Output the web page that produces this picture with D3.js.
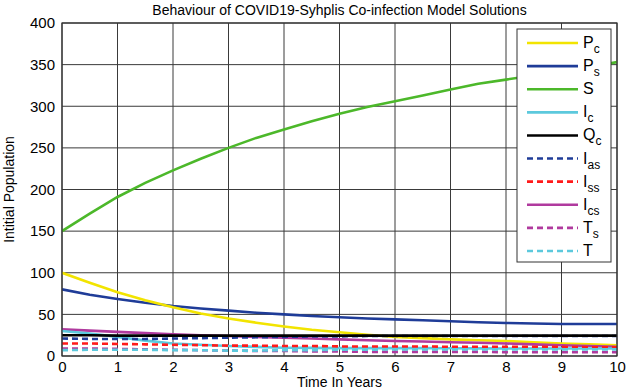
<!DOCTYPE html>
<html><head><meta charset="utf-8">
<script src="https://cdn.jsdelivr.net/npm/d3@7"></script>
<style>body{margin:0;background:#fff}svg{display:block;font-family:"Liberation Sans",Arial,sans-serif}</style>
</head><body><svg id="c" width="629" height="391"></svg>
<script>
const time = [0,0.5,1,1.5,2,2.5,3,3.5,4,4.5,5,5.5,6,6.5,7,7.5,8,8.5,9,9.5,10];
const Pc  = [100,88,76.5,67,58.5,51,45,40,35.5,31.5,28.5,25.5,23,21.5,20,19,18,16.5,15,14,13];
const Ps  = [80,73.5,68.5,64,60,57,54.5,52,50,48,46.5,45,44,43,41.8,40.5,39.7,39,38.5,38.5,38.5];
const S   = [150,171,191,208,223,237,250,262,272,282,291,299,306,313,320,327,332,337,342,347,353];
const Ic  = [30,27,23,18.5,15,13.5,12,11,10,9.8,9.5,9.5,9.5,9.5,9.3,9.2,9,9,9,9,9];
const Qc  = [25,25,24.5,24.5,24.5,24.5,24.5,24.5,24.5,24.5,24.5,24.5,24.5,24.5,24.5,24.5,24.5,24.5,24.5,24.5,24.5];
const Ias = [21,20.5,20.5,20.5,21,21.5,22,22.5,23,23.5,23.5,24,24,24,24,24,24,24,24,24,24];
const Iss = [15,15,14.5,14,13.5,13,12.5,12.5,12,12,11.5,11.5,11.5,11.5,11,11,11,11,11,10.5,10.5];
const Ics = [32,30.5,29,27.5,26,25,24,23,22,21,20,19,18,17.5,16.5,16,15,14,13,12,11];
const Ts  = [9,9,8.5,8,7.5,7,6.5,6,6,5.5,5.5,5,5,5,5,5,4.5,4.5,4.5,4.5,4.5];
const T   = [7,7.5,7.5,7.5,7,7,6.5,6.5,7,7,7.5,7.5,8,8,8,8,8,8,8,8,8];
const xTicks = [0,1,2,3,4,5,6,7,8,9,10];
const yTicks = [0,50,100,150,200,250,300,350,400];

const seriesDefs = [
  {name:"P", sub:"c",  data:Pc,  color:"#f2e400", dash:null},
  {name:"P", sub:"s",  data:Ps,  color:"#1f3c98", dash:null},
  {name:"S", sub:"",   data:S,   color:"#4cb82a", dash:null},
  {name:"I", sub:"c",  data:Ic,  color:"#5cc9dd", dash:null},
  {name:"Q", sub:"c",  data:Qc,  color:"#000000", dash:null},
  {name:"I", sub:"as", data:Ias, color:"#1f3c98", dash:"6,4"},
  {name:"I", sub:"ss", data:Iss, color:"#ff1a1a", dash:"6,4"},
  {name:"I", sub:"cs", data:Ics, color:"#b03a9e", dash:null},
  {name:"T", sub:"s",  data:Ts,  color:"#b03a9e", dash:"6,4"},
  {name:"T", sub:"",   data:T,   color:"#5cc9dd", dash:"6,4"}
];
const drawOrder = [2,1,0,7,3,6,8,9,5,4];

const svg = d3.select("#c");
const L=62, R=617, Tp=23, B=356;
const x = d3.scaleLinear().domain([0,10]).range([L,R]);
const y = d3.scaleLinear().domain([0,400]).range([B,Tp]);

const g = svg.append("g");
g.selectAll(".vx").data(xTicks).join("line")
  .attr("x1",d=>x(d)).attr("x2",d=>x(d)).attr("y1",Tp).attr("y2",B)
  .attr("stroke","#3a3a3a").attr("stroke-width",1);
g.selectAll(".hy").data(yTicks).join("line")
  .attr("x1",L).attr("x2",R).attr("y1",d=>y(d)).attr("y2",d=>y(d))
  .attr("stroke","#3a3a3a").attr("stroke-width",1);

const xa = svg.append("g").attr("transform",`translate(0,${B})`)
  .call(d3.axisBottom(x).tickValues(xTicks).tickSize(0).tickPadding(5).tickFormat(d3.format("d")));
const ya = svg.append("g").attr("transform",`translate(${L},0)`)
  .call(d3.axisLeft(y).tickValues(yTicks).tickSize(0).tickPadding(7).tickFormat(d3.format("d")));
[xa,ya].forEach(a=>{a.select(".domain").remove();a.selectAll("text").attr("font-size",15).attr("fill","#000").attr("font-family","Liberation Sans, Arial, sans-serif");});

const line = d3.line().x((d,i)=>x(time[i])).y(d=>y(d));
svg.append("clipPath").attr("id","pc").append("rect").attr("x",L).attr("y",Tp).attr("width",R-L).attr("height",B-Tp);
drawOrder.forEach(k=>{
  const s = seriesDefs[k];
  svg.append("path").datum(s.data).attr("d",line).attr("fill","none")
    .attr("stroke",s.color).attr("stroke-width",2.6)
    .attr("stroke-dasharray",s.dash).attr("clip-path","url(#pc)");
});

svg.append("rect").attr("x",L).attr("y",Tp).attr("width",R-L).attr("height",B-Tp)
  .attr("fill","none").attr("stroke","#333").attr("stroke-width",1.2);

svg.append("text").attr("x",(L+R)/2).attr("y",15).attr("text-anchor","middle")
  .attr("font-size",14).text("Behaviour of COVID19-Syhplis Co-infection Model Solutions");
svg.append("text").attr("x",(L+R)/2).attr("y",387).attr("text-anchor","middle")
  .attr("font-size",14).text("Time In Years");
svg.append("text").attr("transform",`translate(14,${(Tp+B)/2}) rotate(-90)`).attr("text-anchor","middle")
  .attr("font-size",14).text("Intitial Population");

const lg = svg.append("g");
lg.append("rect").attr("x",517).attr("y",29).attr("width",94).attr("height",233)
  .attr("fill","#fff").attr("stroke","#333").attr("stroke-width",1);
const ly = d3.scaleLinear().domain([0,9]).range([43,251]);
seriesDefs.forEach((s,i)=>{
  const yy = ly(i);
  lg.append("line").attr("x1",527).attr("x2",578).attr("y1",yy).attr("y2",yy)
    .attr("stroke",s.color).attr("stroke-width",2.6).attr("stroke-dasharray",s.dash);
  const t = lg.append("text").attr("x",583).attr("y",yy+5).attr("font-size",16);
  t.append("tspan").text(s.name);
  if(s.sub) t.append("tspan").attr("dy",5).attr("font-size",12).text(s.sub);
});
</script></body></html>
